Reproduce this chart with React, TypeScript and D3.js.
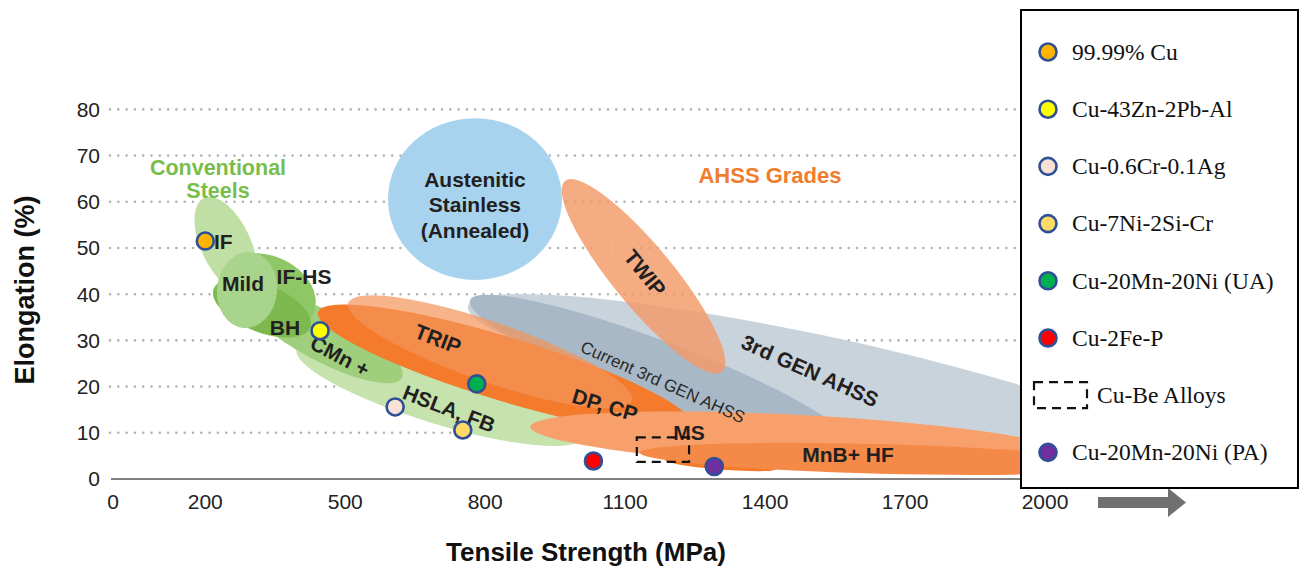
import React from "react";
import * as d3 from "d3";

// Axis ticks
const xTicks = [0, 200, 500, 800, 1100, 1400, 1700, 2000];
const yTicks = [0, 10, 20, 30, 40, 50, 60, 70, 80];

// Steel-family regions: major-axis end points (MPa, %) and half-thickness (%)
const regionNames = ["HSLA", "CMn", "IF", "IFHS", "BH", "Mild", "Austenitic", "Gen3", "CurrentGen3", "DPCP", "TRIP", "TWIP", "MS", "MSTail", "MnB"];
const regionFrom: [number, number][] = [
  [395.7, 28.1], [285.1, 39.8], [197.2, 60.8], [237.3, 45.0], [218.2, 41.2], [298.0, 49.1],
  [591.6, 60.6], [763.1, 37.4], [767.4, 38.7], [441.6, 36.1], [506.3, 38.1], [971.0, 64.5],
  [896.9, 11.3], [1185.4, 4.1], [1132.0, 5.7],
];
const regionTo: [number, number][] = [
  [1010.5, 9.1], [621.6, 21.9], [291.5, 40.5], [431.5, 35.9], [424.9, 32.8], [280.8, 32.7],
  [964.6, 60.6], [2246.5, 5.8], [1582.0, 7.4], [1243.3, 11.5], [1114.3, 16.9], [1307.6, 23.2],
  [2052.7, 5.2], [1425.5, 2.2], [2160.6, 3.0],
];
const regionHalf = [6.7, 5.4, 5.4, 7.8, 5.2, 6.5, 17.5, 9.7, 6.7, 6.9, 6.5, 6.5, 5.6, 1.1, 3.2];

// Copper alloys
const alloyNames = ["99.99% Cu", "Cu-43Zn-2Pb-Al", "Cu-0.6Cr-0.1Ag", "Cu-7Ni-2Si-Cr", "Cu-20Mn-20Ni (UA)", "Cu-2Fe-P", "Cu-20Mn-20Ni (PA)"];
const alloyStrength = [200, 446, 607, 752, 782, 1032, 1291];
const alloyElongation = [51.5, 32.1, 15.6, 10.6, 20.6, 3.9, 2.7];
const cuBeStrength = [1125, 1237];
const cuBeElongation = [3.7, 9.0];

// Region labels: text, MPa, %, rotation
const labelText = ["IF", "Mild", "IF-HS", "BH", "CMn +", "HSLA, FB", "TRIP", "DP, CP", "MS", "MnB+ HF", "TWIP", "3rd GEN AHSS"];
const labelX = [218.6, 280.8, 411.6, 370.8, 488.7, 722.4, 698.8, 1056.8, 1236.9, 1577.7, 1142.6, 1496.2];
const labelY = [51.3, 42.2, 43.9, 32.7, 26.6, 15.2, 30.3, 16.0, 10.0, 5.2, 44.6, 23.4];
const labelAngle = [0, 0, 0, 0, 28, 21, 21, 17, 0, 0, 51, 24];

const regionFill: Record<string, string> = {
  HSLA: "#c6e3ae", CMn: "#9fcf7c", IF: "#c0dfa5", IFHS: "#8ec766", BH: "#7db94e", Mild: "#a9d48c",
  Austenitic: "#a8d3ee", Gen3: "#c9d3dc", CurrentGen3: "#a9b8c6", DPCP: "#f47a2c", TRIP: "#f4945a",
  TWIP: "#f39a68", MS: "#f7a06c", MSTail: "#f47a2c", MnB: "#f58a48",
};
const regionOpacity: Record<string, number> = { TRIP: 0.7, TWIP: 0.82 };

const markerFill = ["#ffb400", "#ffff00", "#f8e2d6", "#ffd966", "#00b050", "#ff0000", "#7030a0"];

const W = 1304, H = 570;
const x = d3.scaleLinear().domain([0, 2000]).range([112, 1045]);
const y = d3.scaleLinear().domain([0, 80]).range([479, 109.4]);

const sans = "'Liberation Sans', Arial, Helvetica, sans-serif";
const serif = "'Liberation Serif', 'Times New Roman', serif";

function Region({ i }: { i: number }) {
  const name = regionNames[i];
  const x1 = x(regionFrom[i][0]), y1 = y(regionFrom[i][1]);
  const x2 = x(regionTo[i][0]), y2 = y(regionTo[i][1]);
  const cx = (x1 + x2) / 2, cy = (y1 + y2) / 2;
  const rx = Math.hypot(x2 - x1, y2 - y1) / 2;
  const ry = y(0) - y(regionHalf[i]);
  const ang = (Math.atan2(y2 - y1, x2 - x1) * 180) / Math.PI;
  return (
    <ellipse
      cx={cx}
      cy={cy}
      rx={rx}
      ry={ry}
      transform={`rotate(${ang} ${cx} ${cy})`}
      fill={regionFill[name]}
      fillOpacity={regionOpacity[name] ?? 1}
    />
  );
}

export default function App() {
  const legendX = 1021, legendY = 10, legendW = 277, legendH = 478;
  const legendRows = [...alloyNames.slice(0, 6), "Cu-Be Alloys", alloyNames[6]];
  const rowY = (k: number) => 52 + k * 57.2;

  return (
    <div style={{ position: "absolute", left: 0, top: 0 }}>
      <svg width={W} height={H} viewBox={`0 0 ${W} ${H}`} style={{ display: "block", background: "#fff" }}>
        <rect width={W} height={H} fill="#fff" />

        {/* dotted horizontal gridlines */}
        {yTicks.filter((t) => t > 0).map((t) => (
          <line key={t} x1={110} x2={1020} y1={y(t)} y2={y(t)} stroke="#b3b3b3" strokeWidth={2.6} strokeDasharray="0 8.3" strokeLinecap="round" />
        ))}

        {/* steel regions */}
        {regionNames.map((_, i) => <Region key={i} i={i} />)}

        {/* axis baseline */}
        <line x1={111} x2={1021} y1={y(0)} y2={y(0)} stroke="#808080" strokeWidth={2} />

        {/* tick labels */}
        {yTicks.map((t) => (
          <text key={t} x={100} y={y(t)} dy="0.35em" textAnchor="end" fontFamily={sans} fontSize={21} fill="#222">{t}</text>
        ))}
        {xTicks.map((t) => (
          <text key={t} x={x(t) + (t === 0 ? 1 : 0)} y={502} dy="0.35em" textAnchor="middle" fontFamily={sans} fontSize={21} fill="#222">{t}</text>
        ))}

        {/* group headings */}
        <text fontFamily={sans} fontWeight="bold" fontSize={21.5} fill="#79bd4b" textAnchor="middle">
          <tspan x={x(227.2)} y={y(67.5)} dy="0.35em">Conventional</tspan>
          <tspan x={x(227.2)} y={y(62.5)} dy="0.35em">Steels</tspan>
        </text>
        <text x={x(1410.5)} y={y(65.8)} dy="0.35em" textAnchor="middle" fontFamily={sans} fontWeight="bold" fontSize={22} fill="#f07d2d">AHSS Grades</text>

        {/* austenitic label */}
        <text fontFamily={sans} fontWeight="bold" fontSize={21} fill="#231f20" textAnchor="middle">
          <tspan x={x(778)} y={y(59.3) - 25.5} dy="0.35em">Austenitic</tspan>
          <tspan x={x(778)} y={y(59.3)} dy="0.35em">Stainless</tspan>
          <tspan x={x(778)} y={y(59.3) + 25.5} dy="0.35em">(Annealed)</tspan>
        </text>

        {/* region labels */}
        {labelText.map((t, i) => {
          const lx = x(labelX[i]), ly = y(labelY[i]);
          return (
            <text key={t} x={lx} y={ly} dy="0.35em" textAnchor={t === "IF" ? "start" : "middle"} transform={`rotate(${labelAngle[i]} ${lx} ${ly})`} fontFamily={sans} fontWeight="bold" fontSize={21} fill="#231f20">{t}</text>
          );
        })}
        <text x={x(1181)} y={y(21)} dy="0.35em" textAnchor="middle" transform={`rotate(24 ${x(1181)} ${y(21)})`} fontFamily={sans} fontSize={17} fill="#2a2a2a">Current 3rd GEN AHSS</text>

        {/* Cu-Be range */}
        <rect x={x(cuBeStrength[0])} y={y(cuBeElongation[1])} width={x(cuBeStrength[1]) - x(cuBeStrength[0])} height={y(cuBeElongation[0]) - y(cuBeElongation[1])} fill="none" stroke="#111" strokeWidth={2.2} strokeDasharray="9 6" />

        {/* alloy points */}
        {alloyStrength.map((s, i) => (
          <circle key={i} cx={x(s)} cy={y(alloyElongation[i])} r={8.5} fill={markerFill[i]} stroke="#2f4f96" strokeWidth={2.6} />
        ))}

        {/* arrow beyond 2000 */}
        <path d="M1098,497 L1168,497 L1168,488 L1186,502.5 L1168,517 L1168,508 L1098,508 Z" fill="#707070" />

        {/* axis titles */}
        <text x={25} y={290} transform="rotate(-90 25 290)" dy="0.35em" textAnchor="middle" fontFamily={sans} fontWeight="bold" fontSize={27} fill="#111">Elongation (%)</text>
        <text x={586} y={552} dy="0.35em" textAnchor="middle" fontFamily={sans} fontWeight="bold" fontSize={26} fill="#111">Tensile Strength (MPa)</text>

        {/* legend */}
        <rect x={legendX} y={legendY} width={legendW} height={legendH} fill="#fff" stroke="#000" strokeWidth={2} />
        {legendRows.map((name, k) => {
          const ry = rowY(k);
          if (name === "Cu-Be Alloys") {
            return (
              <g key={name}>
                <rect x={1034} y={ry - 13} width={53} height={26} fill="none" stroke="#111" strokeWidth={2.2} strokeDasharray="9 6" />
                <text x={1097} y={ry} dy="0.33em" fontFamily={serif} fontSize={23.5} fill="#111">{name}</text>
              </g>
            );
          }
          const ai = alloyNames.indexOf(name);
          return (
            <g key={name}>
              <circle cx={1048} cy={ry} r={8.5} fill={markerFill[ai]} stroke="#2f4f96" strokeWidth={2.6} />
              <text x={1072} y={ry} dy="0.33em" fontFamily={serif} fontSize={23.5} fill="#111">{name}</text>
            </g>
          );
        })}
      </svg>
    </div>
  );
}
